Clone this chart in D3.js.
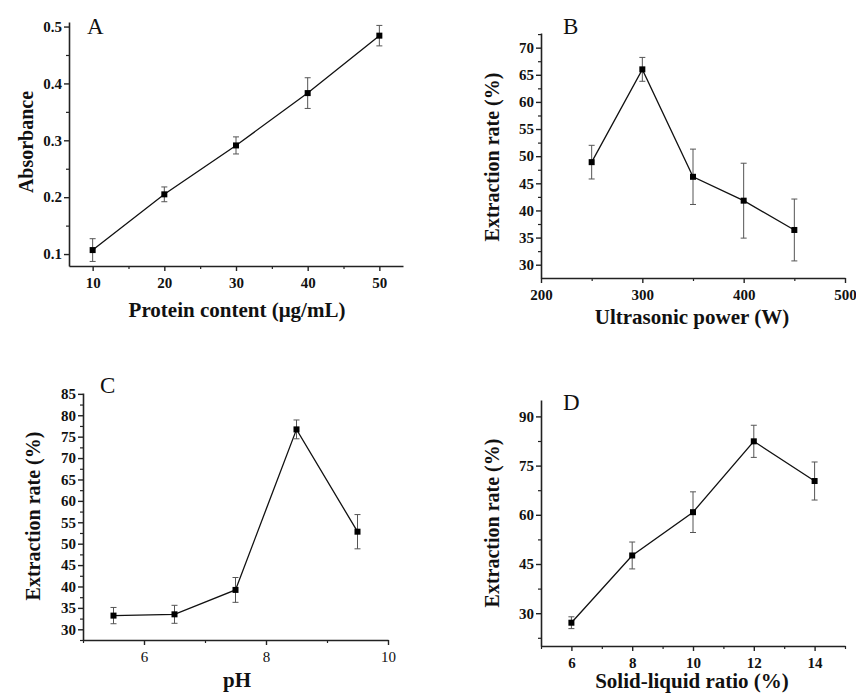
<!DOCTYPE html>
<html>
<head>
<meta charset="utf-8">
<script src="https://cdn.jsdelivr.net/npm/d3@7/dist/d3.min.js"></script>
<style>
  html, body { margin: 0; padding: 0; background: #fff; }
  svg { display: block; }
  text { font-family: "Liberation Serif", "Times New Roman", serif; }
</style>
</head>
<body>
<svg id="chart" width="856" height="693"></svg>
<script>
// ---- Data ----
// Panel A: standard curve
const proteinContent = [10, 20, 30, 40, 50];
const absorbance     = [0.107, 0.205, 0.291, 0.383, 0.484];
const absorbanceErr  = [0.020, 0.013, 0.015, 0.027, 0.018];
const aTicksX = [10, 20, 30, 40, 50];
const aTicksY = [0.1, 0.2, 0.3, 0.4, 0.5];

// Panel B: ultrasonic power
const ultrasonicPower = [250, 300, 350, 400, 450];
const rateB           = [48.9, 66.0, 46.2, 41.8, 36.4];
const rateBErr        = [3.1, 2.2, 5.1, 6.9, 5.7];
const bTicksX = [200, 300, 400, 500];
const bTicksY = [30, 35, 40, 45, 50, 55, 60, 65, 70];

// Panel C: pH
const pHValues = [5.5, 6.5, 7.5, 8.5, 9.5];
const rateC    = [33.2, 33.5, 39.2, 76.7, 52.8];
const rateCErr = [1.9, 2.1, 2.9, 2.2, 4.0];
const cTicksX = [6, 8, 10];
const cTicksY = [30, 35, 40, 45, 50, 55, 60, 65, 70, 75, 80, 85];

// Panel D: solid-liquid ratio
const solidLiquidRatio = [6, 8, 10, 12, 14];
const rateD            = [27.1, 47.6, 60.8, 82.4, 70.3];
const rateDErr         = [1.8, 4.1, 6.2, 4.9, 5.8];
const dTicksX = [6, 8, 10, 12, 14];
const dTicksY = [30, 45, 60, 75, 90];

// ---- Layout ----
const panels = [
  { letter: "A", x: proteinContent, y: absorbance, e: absorbanceErr,
    box: { l: 69, r: 403, t: 22, b: 266 }, xd: [6.7, 53.3], yd: [0.079, 0.508],
    xt: aTicksX, yt: aTicksY, xfmt: d3.format("d"), yfmt: d3.format(".1f"),
    xBold: true, xTitle: "Protein content (\u03bcg/mL)", yTitle: "Absorbance",
    xTitlePos: [237, 317], yTitlePos: [33, 142], letterPos: [87, 34] },
  { letter: "B", x: ultrasonicPower, y: rateB, e: rateBErr,
    box: { l: 541, r: 845, t: 33, b: 278 }, xd: [200, 500], yd: [27.55, 72.7],
    xt: bTicksX, yt: bTicksY, xfmt: d3.format("d"), yfmt: d3.format("d"),
    xBold: true, xTitle: "Ultrasonic power (W)", yTitle: "Extraction rate (%)",
    xTitlePos: [692, 324], yTitlePos: [499, 157], letterPos: [563, 34] },
  { letter: "C", x: pHValues, y: rateC, e: rateCErr,
    box: { l: 83, r: 388, t: 393, b: 640 }, xd: [5, 10], yd: [27.5, 85.2],
    xt: cTicksX, yt: cTicksY, xfmt: d3.format("d"), yfmt: d3.format("d"),
    xBold: false, xTitle: "pH", yTitle: "Extraction rate (%)",
    xTitlePos: [237, 687], yTitlePos: [40, 516], letterPos: [100, 393] },
  { letter: "D", x: solidLiquidRatio, y: rateD, e: rateDErr,
    box: { l: 541, r: 845, t: 400, b: 646 }, xd: [5, 15], yd: [20, 95],
    xt: dTicksX, yt: dTicksY, xfmt: d3.format("d"), yfmt: d3.format("d"),
    xBold: true, xTitle: "Solid-liquid ratio (%)", yTitle: "Extraction rate (%)",
    xTitlePos: [692, 688], yTitlePos: [499, 523], letterPos: [563, 410] }
];

const svg = d3.select("#chart");

function minorTicks(major, domain) {
  const step = major[1] - major[0];
  const out = [];
  const start = major[0] - step;
  for (let i = 0; i <= major.length + 1; i++) {
    const v = +(start + step * i + step / 2).toFixed(6);
    if (v >= domain[0] - 1e-9 && v <= domain[1] + 1e-9) out.push(v);
  }
  return out;
}

panels.forEach(p => {
  const g = svg.append("g");
  const x = d3.scaleLinear().domain(p.xd).range([p.box.l, p.box.r]);
  const y = d3.scaleLinear().domain(p.yd).range([p.box.b, p.box.t]);

  // minor ticks
  const xMinor = minorTicks(p.xt, p.xd);
  const yMinor = minorTicks(p.yt, p.yd);

  const xMinorAxis = d3.axisBottom(x).tickValues(xMinor).tickSize(3).tickSizeOuter(0).tickFormat("");
  const yMinorAxis = d3.axisLeft(y).tickValues(yMinor).tickSize(3).tickSizeOuter(0).tickFormat("");
  g.append("g").attr("transform", `translate(0,${p.box.b})`).call(xMinorAxis)
    .call(s => s.select(".domain").remove())
    .selectAll("line").attr("stroke", "#222").attr("stroke-width", 1.2);
  g.append("g").attr("transform", `translate(${p.box.l},0)`).call(yMinorAxis)
    .call(s => s.select(".domain").remove())
    .selectAll("line").attr("stroke", "#222").attr("stroke-width", 1.2);

  // major axes
  const xAxis = d3.axisBottom(x).tickValues(p.xt).tickFormat(p.xfmt).tickSize(5).tickSizeOuter(0).tickPadding(6);
  const yAxis = d3.axisLeft(y).tickValues(p.yt).tickFormat(p.yfmt).tickSize(5).tickSizeOuter(0).tickPadding(2);

  const gx = g.append("g").attr("transform", `translate(0,${p.box.b})`).call(xAxis);
  const gy = g.append("g").attr("transform", `translate(${p.box.l},0)`).call(yAxis);
  [gx, gy].forEach(a => {
    a.select(".domain").attr("stroke", "#222").attr("stroke-width", 1.6);
    a.selectAll(".tick line").attr("stroke", "#222").attr("stroke-width", 1.4);
    a.selectAll(".tick text")
      .attr("fill", "#111")
      .style("font-family", '"Liberation Serif", "Times New Roman", serif')
      .style("font-size", "15px");
  });
  gy.selectAll(".tick text").style("font-weight", "bold");
  gx.selectAll(".tick text").style("font-weight", p.xBold ? "bold" : "normal");

  // line
  const line = d3.line().x((d, i) => x(p.x[i])).y((d, i) => y(p.y[i]));
  g.append("path").datum(p.y).attr("d", line)
    .attr("fill", "none").attr("stroke", "#111").attr("stroke-width", 1.3);

  // error bars
  const eg = g.append("g").attr("stroke", "#555").attr("stroke-width", 1);
  p.y.forEach((v, i) => {
    const cx = x(p.x[i]);
    const y1 = y(v + p.e[i]), y0 = y(v - p.e[i]);
    eg.append("line").attr("x1", cx).attr("x2", cx).attr("y1", y1).attr("y2", y0);
    eg.append("line").attr("x1", cx - 3).attr("x2", cx + 3).attr("y1", y1).attr("y2", y1);
    eg.append("line").attr("x1", cx - 3).attr("x2", cx + 3).attr("y1", y0).attr("y2", y0);
  });

  // markers
  g.append("g").selectAll("rect").data(p.y).join("rect")
    .attr("x", (d, i) => x(p.x[i]) - 3)
    .attr("y", d => y(d) - 3)
    .attr("width", 6).attr("height", 6)
    .attr("fill", "#000");

  // titles
  g.append("text")
    .attr("x", p.xTitlePos[0]).attr("y", p.xTitlePos[1])
    .attr("text-anchor", "middle")
    .style("font-size", "21px").style("font-weight", "bold").attr("fill", "#111")
    .text(p.xTitle);
  g.append("text")
    .attr("transform", `translate(${p.yTitlePos[0]},${p.yTitlePos[1]}) rotate(-90)`)
    .attr("text-anchor", "middle")
    .style("font-size", "20px").style("font-weight", "bold").attr("fill", "#111")
    .text(p.yTitle);
  g.append("text")
    .attr("x", p.letterPos[0]).attr("y", p.letterPos[1])
    .style("font-size", "23px").attr("fill", "#111")
    .text(p.letter);
});
</script>
</body>
</html>
